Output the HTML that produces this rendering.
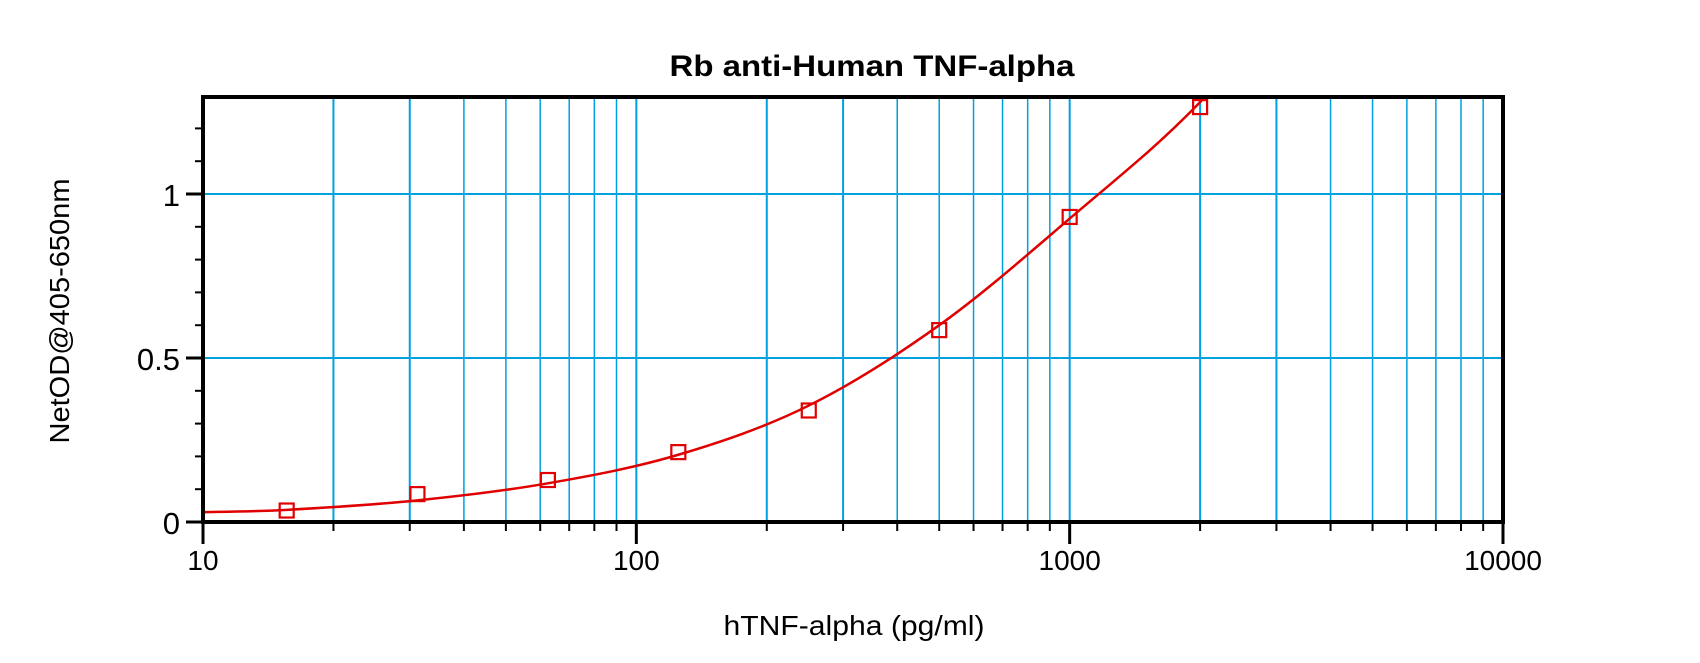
<!DOCTYPE html><html><head><style>body{margin:0;background:#fff}svg{display:block}text{font-family:"Liberation Sans",Arial,sans-serif;fill:#000}</style></head><body>
<svg id="s" width="1700" height="663" xmlns="http://www.w3.org/2000/svg">
<defs><clipPath id="c"><rect x="203" y="97" width="1300" height="425"/></clipPath></defs>
<text x="872" y="76" font-size="30" font-weight="bold" text-anchor="middle" textLength="405" lengthAdjust="spacingAndGlyphs">Rb anti-Human TNF-alpha</text>
<text x="854" y="635" font-size="28" text-anchor="middle" textLength="261" lengthAdjust="spacingAndGlyphs">hTNF-alpha (pg/ml)</text>
<text transform="translate(69,311) rotate(-90)" font-size="28" text-anchor="middle" textLength="265" lengthAdjust="spacingAndGlyphs">NetOD@405-650nm</text>
<g id="g"></g>
</svg>
<script>
const L=203,R=1503,T=97,B=522,ns="http://www.w3.org/2000/svg",g=document.getElementById('g');
const X=v=>L+(Math.log10(v)-1)*(R-L)/3, Y=v=>B-v*328;
function el(n,a){const e=document.createElementNS(ns,n);for(const k in a)e.setAttribute(k,a[k]);g.appendChild(e);return e;}
for(let d=10;d<10000;d*=10)for(let m=1;m<10;m++){const v=d*m,x=X(v);if(m>1||d>10){el('line',{x1:x,x2:x,y1:T,y2:B,stroke:'#00a0e0','stroke-width':(m==1||m==2||m==3)?2:1.5});}
el('line',{x1:x,x2:x,y1:B,y2:B+(m==1?22:9),stroke:'#000','stroke-width':m==1?3:2});}
el('line',{x1:R,x2:R,y1:B,y2:B+22,stroke:'#000','stroke-width':3});
[0.5,1].forEach(v=>el('line',{x1:L,x2:R,y1:Y(v),y2:Y(v),stroke:'#00a0e0','stroke-width':2}));
for(let i=0;i<=12;i++){const v=i/10;el('line',{x1:L-(i%5==0?17:8),x2:L,y1:Y(v),y2:Y(v),stroke:'#000','stroke-width':i%5==0?3:2});}
[[0,'0'],[0.5,'0.5'],[1,'1']].forEach(([v,t])=>{const e=el('text',{x:180,y:Y(v)+12,'font-size':31,'text-anchor':'end'});e.textContent=t;});
[10,100,1000,10000].forEach(v=>{const e=el('text',{x:X(v),y:B+48,'font-size':28,'text-anchor':'middle'});e.textContent=v;});
const P=[[10,0.03],[15.6,0.037],[31.25,0.066],[62.5,0.118],[125,0.205],[250,0.355],[500,0.6],[1000,0.925],[2000,1.28],[4000,1.75]].map(p=>[X(p[0]),Y(p[1])]);
let d='M'+P[0];
for(let i=0;i<P.length-1;i++){const p0=P[Math.max(0,i-1)],p1=P[i],p2=P[i+1],p3=P[Math.min(P.length-1,i+2)];
d+=` C${p1[0]+(p2[0]-p0[0])/6},${p1[1]+(p2[1]-p0[1])/6} ${p2[0]-(p3[0]-p1[0])/6},${p2[1]-(p3[1]-p1[1])/6} ${p2[0]},${p2[1]}`;}
el('path',{d,fill:'none',stroke:'#e00000','stroke-width':2.5,'clip-path':'url(#c)'});
[[15.6,0.035],[31.25,0.085],[62.5,0.128],[125,0.213],[250,0.34],[500,0.585],[1000,0.93],[2000,1.265]].forEach(([a,b])=>el('rect',{x:X(a)-7,y:Y(b)-7,width:14,height:14,fill:'none',stroke:'#e00000','stroke-width':2.2}));
el('rect',{x:L,y:T,width:R-L,height:B-T,fill:'none',stroke:'#000','stroke-width':4});
</script></body></html>
